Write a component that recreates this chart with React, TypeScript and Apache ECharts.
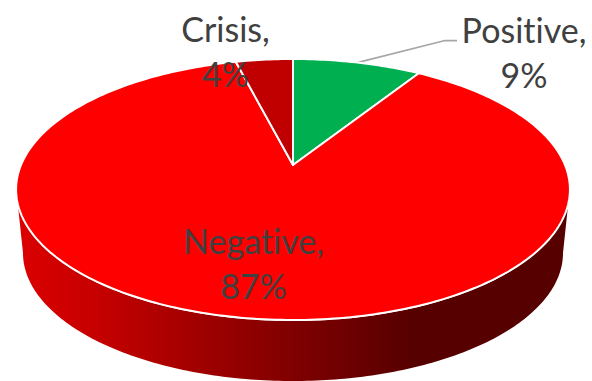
import React, { useEffect, useRef } from "react";
import * as echarts from "echarts";

const categories = ["Positive", "Negative", "Crisis"];
const shares = [9, 87, 4];

const sliceColors: Record<string, string> = {
  Positive: "#00B050",
  Negative: "#FF0000",
  Crisis: "#C00000",
};
const labelCenters: Record<string, [number, number]> = {
  Positive: [524, 51.5],
  Negative: [253.5, 262.5],
  Crisis: [225.5, 51],
};

// Tilted disc: the apex sits above the centre of the rim ellipse because of perspective.
const APEX_X = 293;
const APEX_Y = 165;
const SCALE_X = 272;
const SCALE_Y = 125.9;
const TILT = -0.1877;

const project = (deg: number): number[] => {
  const rad = (deg * Math.PI) / 180;
  const u = Math.sin(rad);
  const v = -Math.cos(rad);
  const d = 1 + TILT * v;
  return [APEX_X + (SCALE_X * u) / d, APEX_Y + (SCALE_Y * v) / d];
};

const arcPoints = (from: number, to: number): number[][] => {
  const steps = Math.max(2, Math.ceil(Math.abs(to - from)));
  const pts: number[][] = [];
  for (let i = 0; i <= steps; i++) pts.push(project(from + ((to - from) * i) / steps));
  return pts;
};

// Side wall of the disc: lower part of the rim down to a slightly narrower bottom ellipse.
const wallPoints = (): number[][] => {
  const pts: number[][] = [];
  const t0 = 0.12;
  for (let i = 0; i <= 180; i++) {
    const t = Math.PI - t0 - ((Math.PI - 2 * t0) * i) / 180;
    pts.push([293 + 277 * Math.cos(t), 190 + 131 * Math.sin(t)]);
  }
  for (let i = 0; i <= 180; i++) {
    const t = (Math.PI * i) / 180;
    pts.push([293 + 270 * Math.cos(t), 253 + 128 * Math.sin(t)]);
  }
  return pts;
};

const wallFill = new echarts.graphic.LinearGradient(0, 0, 1, 0, [
  { offset: 0, color: "#DC0000" },
  { offset: 0.15, color: "#C40000" },
  { offset: 0.28, color: "#AA0000" },
  { offset: 0.5, color: "#800000" },
  { offset: 0.72, color: "#560000" },
  { offset: 1, color: "#560000" },
]);

export default function App() {
  const ref = useRef<HTMLDivElement>(null);

  useEffect(() => {
    if (!ref.current) return;
    const chart = echarts.init(ref.current, undefined, { renderer: "svg" });
    const total = shares.reduce((a, b) => a + b, 0);

    const renderItem = (params: any, api: any) => {
      const idx = params.dataIndex;
      const name = categories[idx];
      const before = shares.slice(0, idx).reduce((a, b) => a + b, 0);
      const start = (before / total) * 360;
      const end = ((before + api.value(0)) / total) * 360;
      const children: any[] = [];

      if (name === "Negative") {
        children.push({
          type: "polygon",
          shape: { points: wallPoints() },
          style: { fill: wallFill },
        });
      }
      children.push({
        type: "polygon",
        shape: { points: [[APEX_X, APEX_Y], ...arcPoints(start, end)] },
        style: { fill: sliceColors[name], stroke: "#FFFFFF", lineWidth: 2, lineJoin: "round" },
        z2: 2,
      });
      if (name === "Positive") {
        const anchor = project((start + end) / 2);
        children.push({
          type: "polyline",
          shape: { points: [anchor, [445, 40.5], [457, 40.5]] },
          style: { fill: "none", stroke: "#A6A6A6", lineWidth: 1.75 },
          z2: 1,
        });
      }
      const [lx, ly] = labelCenters[name];
      children.push({
        type: "text",
        z2: 10,
        style: {
          text: `${name},\n${api.value(0)}%`,
          x: lx,
          y: ly,
          align: "center",
          verticalAlign: "middle",
          fontFamily: "Lato",
          fontSize: 34,
          lineHeight: 45,
          fill: "#404040",
        },
      });
      return { type: "group", children };
    };

    chart.setOption({
      animation: false,
      backgroundColor: "#FFFFFF",
      series: [
        {
          type: "custom",
          coordinateSystem: "none",
          silent: true,
          data: categories.map((name, i) => ({ name, value: shares[i] })),
          renderItem,
        },
      ],
    });
    return () => chart.dispose();
  }, []);

  return (
    <div
      ref={ref}
      style={{ position: "absolute", left: 0, top: 0, width: 592, height: 381, fontVariantLigatures: "none" }}
    />
  );
}
